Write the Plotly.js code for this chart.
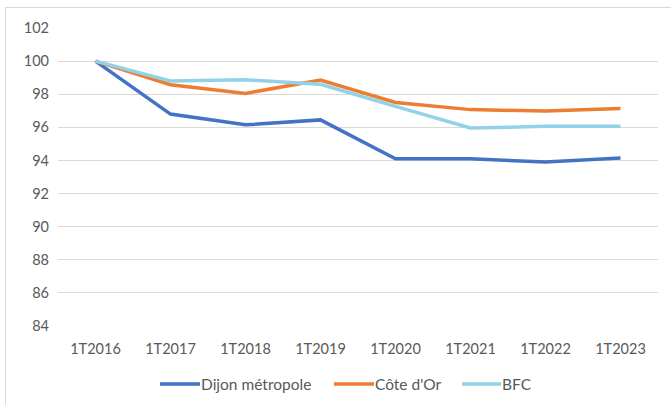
<!DOCTYPE html>
<html>
<head>
<meta charset="utf-8">
<script src="https://cdn.plot.ly/plotly-3.0.1.min.js"></script>
<style>
html,body{margin:0;padding:0;background:#fff;}
#chart{width:671px;height:405px;position:absolute;left:0;top:0;}
#frame{position:absolute;left:5px;top:7px;width:680px;height:420px;border-left:1px solid #d9d9d9;border-top:1px solid #d9d9d9;pointer-events:none;}
</style>
</head>
<body>
<div id="chart"></div>
<div id="frame"></div>
<script>
const categories = ["1T2016","1T2017","1T2018","1T2019","1T2020","1T2021","1T2022","1T2023"];
const dijon = [100, 96.8, 96.15, 96.45, 94.1, 94.1, 93.9, 94.15];
const coteDOr = [100, 98.57, 98.05, 98.85, 97.5, 97.07, 96.98, 97.14];
const bfc = [100, 98.8, 98.87, 98.6, 97.27, 95.96, 96.06, 96.06];
const seriesNames = ["Dijon métropole", "Côte d'Or", "BFC"];
const yTicks = [84,86,88,90,92,94,96,98,100,102];

const colors = ["#4472C4", "#ED7D31", "#92D2E8"];
const data = [dijon, coteDOr, bfc].map((vals, i) => ({
  x: categories, y: vals, name: seriesNames[i], type: "scatter", mode: "lines",
  line: {color: colors[i], width: 3.5}, showlegend: false
}));

const font = {family: "Lato, 'Open Sans', sans-serif", size: 14.5, color: "#595959"};
const legFont = {family: "Lato, 'Open Sans', sans-serif", size: 15.5, color: "#595959"};

// Plot area geometry (pixels) for the custom legend placement
const L = 58, W = 600, T = 28, H = 298;
const px = v => (v - L) / W;
const py = v => (T + H - v) / H;
const legY = 384;
const legendSlots = [[160, 200], [334, 374], [462, 501]];
const shapes = [], annotations = [];
seriesNames.forEach((name, i) => {
  const [a, b] = legendSlots[i];
  shapes.push({type: "line", xref: "paper", yref: "paper", x0: px(a), x1: px(b),
               y0: py(legY), y1: py(legY), line: {color: colors[i], width: 3.5}});
  annotations.push({xref: "paper", yref: "paper", x: px(b - 1), y: py(legY),
                    xanchor: "left", yanchor: "middle", showarrow: false,
                    text: name, font: legFont});
});

const layout = {
  width: 671, height: 405,
  margin: {l: L, r: 13, t: T, b: 405 - T - H, autoexpand: false},
  paper_bgcolor: "#fff", plot_bgcolor: "#fff",
  font: font,
  showlegend: false,
  shapes: shapes,
  annotations: annotations,
  xaxis: {type: "category", range: [-0.5, 7.5], showgrid: false, zeroline: false, automargin: false,
          showline: false, ticks: "", tickfont: font, ticklabelstandoff: 12},
  yaxis: {range: [84, 102], tickvals: yTicks, showgrid: true, gridcolor: "#d9d9d9", automargin: false,
          gridwidth: 1, zeroline: false, showline: false, ticks: "", tickfont: font,
          ticklabelstandoff: 8}
};
Plotly.newPlot("chart", data, layout, {staticPlot: true, displayModeBar: false});
</script>
</body>
</html>
